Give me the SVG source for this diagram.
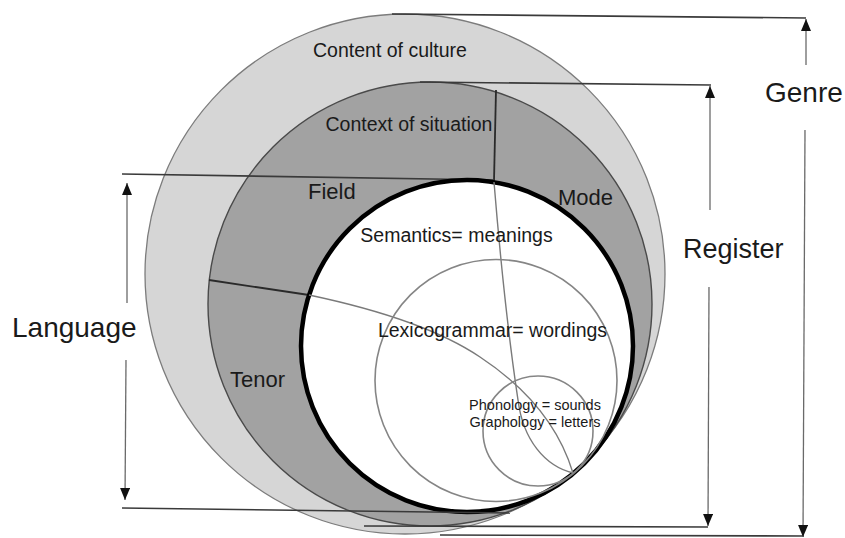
<svg xmlns="http://www.w3.org/2000/svg" width="845" height="538" viewBox="0 0 845 538">
<style>
  text { font-family: "Liberation Sans", Arial, sans-serif; fill: #1a1a1a; }
  .big { font-size: 28px; }
  .mid { font-size: 22px; }
  .lab { font-size: 19.5px; }
  .small { font-size: 14.5px; }
  .dim { stroke: #3a3a3a; stroke-width: 1.6; fill: none; }
  .shaft { stroke: #6a6a6a; stroke-width: 1.3; fill: none; }
  .divdark { stroke: #2a2a2a; stroke-width: 1.8; fill: none; }
  .divthin { stroke: #7a7a7a; stroke-width: 1.4; fill: none; }
  .inner { stroke: #858585; stroke-width: 1.6; fill: none; }
</style>
<defs>
  <marker id="arr" viewBox="0 0 12 10" refX="12" refY="5" markerWidth="12" markerHeight="10" markerUnits="userSpaceOnUse" orient="auto">
    <path d="M0,0 L12,5 L0,10 z" fill="#111"/>
  </marker>
</defs>
<rect width="845" height="538" fill="#ffffff"/>

<g id="culture">
  <circle cx="405" cy="274" r="260" fill="#d6d6d6" stroke="#7c7c7c" stroke-width="1.3"/>
  <text class="lab" x="390" y="57" text-anchor="middle">Content of culture</text>
</g>

<g id="situation">
  <circle cx="430" cy="304" r="222" fill="#a2a2a2" stroke="#4a4a4a" stroke-width="1.4"/>
  <text class="lab" x="409" y="131" text-anchor="middle">Context of situation</text>
</g>

<g id="dividers-band">
  <path class="divdark" d="M496,90 L494,181"/>
  <path class="divdark" d="M209,280 L309,295"/>
</g>

<g id="connectors">
  <!-- Language -->
  <path class="dim" d="M122,174 L494,180"/>
  <path class="shaft" d="M127,303 L127,183" marker-end="url(#arr)"/>
  <path class="shaft" d="M126,360 L125,500" marker-end="url(#arr)"/>
  <!-- Register -->
  <path class="dim" d="M420,82 L711,85"/>
  <path class="dim" d="M364,526 L708,527"/>
  <path class="shaft" d="M710,210 L710,86" marker-end="url(#arr)"/>
  <path class="shaft" d="M709,287 L708,526" marker-end="url(#arr)"/>
  <!-- Genre -->
  <path class="dim" d="M392,14 L806,18"/>
  <path class="dim" d="M440,535 L804,536"/>
  <path class="shaft" d="M806,65 L806,19" marker-end="url(#arr)"/>
  <path class="shaft" d="M805,130 L803,537" marker-end="url(#arr)"/>
</g>

<g id="semantics">
  <circle cx="467" cy="346" r="166" fill="#ffffff" stroke="#000000" stroke-width="4.5"/>
</g>

<g id="language-bottom">
  <path class="dim" d="M122,508 L510,513"/>
</g>

<g id="dividers-inner">
  <path class="divthin" d="M494,182 C502,280 512,360 518,400 C523,440 545,466 573,473"/>
  <path class="divthin" d="M309,295 C380,310 440,330 480,357 C530,390 560,430 573,473"/>
</g>

<g id="lexicogrammar">
  <circle class="inner" cx="496" cy="380.5" r="121"/>
</g>

<g id="phonology">
  <circle class="inner" cx="538" cy="431" r="55"/>
</g>

<g id="labels">
  <text class="mid" x="308" y="199">Field</text>
  <text class="mid" x="558" y="205">Mode</text>
  <text class="mid" x="230" y="387">Tenor</text>
  <text class="lab" x="456.5" y="242" text-anchor="middle">Semantics= meanings</text>
  <text class="lab" x="492.5" y="337" text-anchor="middle">Lexicogrammar= wordings</text>
  <text class="small" x="535" y="410" text-anchor="middle">Phonology = sounds</text>
  <text class="small" x="535" y="427" text-anchor="middle">Graphology = letters</text>
</g>

<g id="dimension-labels">
  <text class="big" x="765" y="102">Genre</text>
  <text class="big" x="683" y="258" style="font-size:27px">Register</text>
  <text class="big" x="12" y="337">Language</text>
</g>
</svg>
